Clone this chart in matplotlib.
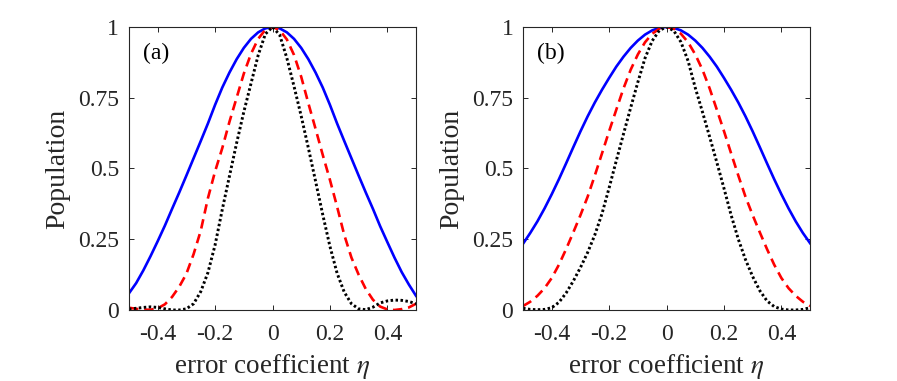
"""Population vs error coefficient eta, panels (a) and (b)."""

import matplotlib
matplotlib.use("Agg")
import matplotlib.pyplot as plt
import numpy as np

plt.rcParams["font.family"] = ["Liberation Serif", "DejaVu Serif"]
plt.rcParams["mathtext.fontset"] = "stix"

# sampling grid of the error coefficient
ETA = np.linspace(-0.5, 0.5, 41)

# panel (a)
A_BLUE = [0.059, 0.095, 0.140, 0.190, 0.243, 0.298, 0.357, 0.415, 0.475, 0.536,
          0.597, 0.659, 0.725, 0.786, 0.839, 0.886, 0.926, 0.958, 0.981, 0.995,
          1.000,
          0.995, 0.981, 0.958, 0.926, 0.886, 0.839, 0.786, 0.725, 0.659, 0.597,
          0.536, 0.475, 0.415, 0.357, 0.296, 0.240, 0.185, 0.134, 0.090, 0.050]
A_RED = [0.008, 0.004, 0.001, 0.001, 0.006, 0.020, 0.046, 0.082, 0.128, 0.197,
         0.280, 0.395, 0.490, 0.572, 0.665, 0.750, 0.835, 0.905, 0.958, 0.990,
         1.000,
         0.989, 0.956, 0.901, 0.824, 0.730, 0.640, 0.548, 0.460, 0.365, 0.265,
         0.185, 0.125, 0.074, 0.036, 0.012, 0.002, 0.000, 0.003, 0.009, 0.022]
A_BLACK = [0.003, 0.006, 0.009, 0.011, 0.009, 0.004, 0.000, 0.000, 0.004, 0.022,
           0.065, 0.132, 0.230, 0.355, 0.473, 0.590, 0.700, 0.800, 0.900, 0.975,
           1.000,
           0.972, 0.890, 0.790, 0.685, 0.572, 0.455, 0.337, 0.225, 0.130, 0.063,
           0.022, 0.004, 0.001, 0.010, 0.025, 0.032, 0.035, 0.034, 0.030, 0.022]

# panel (b)
B_BLUE = [0.234, 0.272, 0.313, 0.359, 0.409, 0.462, 0.518, 0.575, 0.631, 0.684,
          0.733, 0.778, 0.820, 0.860, 0.895, 0.926, 0.952, 0.973, 0.988, 0.997,
          1.000,
          0.997, 0.988, 0.973, 0.952, 0.926, 0.895, 0.860, 0.820, 0.778, 0.733,
          0.684, 0.631, 0.575, 0.518, 0.462, 0.409, 0.359, 0.313, 0.272, 0.236]
B_RED = [0.014, 0.029, 0.050, 0.077, 0.113, 0.160, 0.215, 0.274, 0.335, 0.400,
         0.475, 0.553, 0.632, 0.708, 0.783, 0.849, 0.903, 0.946, 0.976, 0.994,
         1.000,
         0.994, 0.976, 0.946, 0.903, 0.849, 0.783, 0.708, 0.632, 0.553, 0.475,
         0.400, 0.335, 0.274, 0.215, 0.160, 0.113, 0.077, 0.050, 0.029, 0.014]
B_BLACK = [0.006, 0.002, 0.001, 0.002, 0.008, 0.027, 0.060, 0.102, 0.150, 0.203,
           0.265, 0.340, 0.432, 0.528, 0.622, 0.715, 0.805, 0.890, 0.951, 0.988,
           1.000,
           0.987, 0.947, 0.880, 0.785, 0.700, 0.612, 0.522, 0.430, 0.335, 0.250,
           0.178, 0.118, 0.068, 0.032, 0.012, 0.003, 0.000, 0.000, 0.002, 0.008]

XTICKS = [-0.4, -0.2, 0, 0.2, 0.4]
XTICKLABELS = ["-0.4", "-0.2", "0", "0.2", "0.4"]
YTICKS = [0, 0.25, 0.5, 0.75, 1]
YTICKLABELS = ["0", "0.25", "0.5", "0.75", "1"]
PANELS = ["(a)", "(b)"]

FRAME = "#262626"


def draw(ax, blue, red, black, tag):
    ax.plot(ETA, blue, color="#0000ff", lw=1.9, ls="-", solid_joinstyle="round")
    ax.plot(ETA, red, color="#ff0000", lw=1.9, ls=(0, (3.6, 2.2)))
    ax.plot(ETA, black, color="black", lw=2.1, ls=(0, (0.85, 0.85)))
    ax.set_xlim(-0.5, 0.5)
    ax.set_ylim(0, 1)
    ax.set_xticks(XTICKS, XTICKLABELS)
    ax.set_yticks(YTICKS, YTICKLABELS)
    ax.tick_params(direction="in", top=True, right=True, length=3.5,
                   width=0.7, color=FRAME, labelsize=17, labelcolor="#262626")
    ax.tick_params(axis="x", pad=10)
    ax.tick_params(axis="y", pad=7)
    for s in ax.spines.values():
        s.set_color(FRAME)
        s.set_linewidth(0.8)
    ax.set_xlabel(r"error coefficient $\eta$", fontsize=19.5, color="#262626",
                  labelpad=5)
    ax.set_ylabel("Population", fontsize=20, color="#262626", labelpad=6)
    ax.text(0.05, 0.905, tag, transform=ax.transAxes, fontsize=17,
            va="center", ha="left")


def main():
    fig = plt.figure(figsize=(8.97, 3.81), dpi=100)
    ax_a = fig.add_axes([0.1438, 0.1864, 0.32, 0.7428])
    ax_b = fig.add_axes([0.5831, 0.1864, 0.32, 0.7428])
    draw(ax_a, A_BLUE, A_RED, A_BLACK, PANELS[0])
    draw(ax_b, B_BLUE, B_RED, B_BLACK, PANELS[1])
    fig.savefig("out.png", dpi=100)


if __name__ == "__main__":
    main()
